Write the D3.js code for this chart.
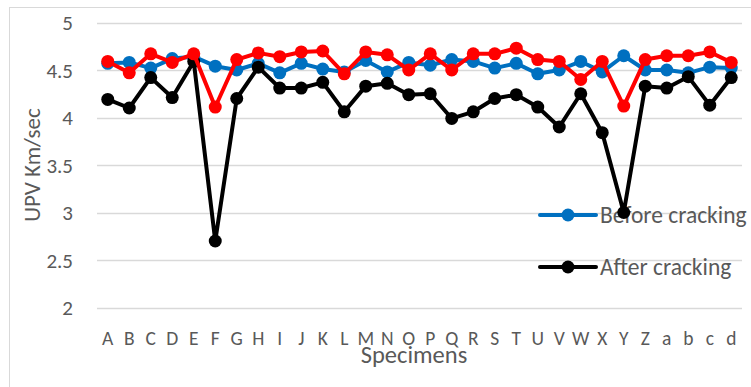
<!DOCTYPE html>
<html>
<head>
<meta charset="utf-8">
<script src="https://cdn.jsdelivr.net/npm/d3@7"></script>
<style>
  html, body { margin: 0; padding: 0; background: #fff; }
  svg { display: block; }
  text { font-family: Carlito, Lato, "Open Sans", sans-serif; fill: #595959; }
</style>
</head>
<body>
<svg id="chart" width="751" height="387"></svg>
<script>
// Specimen labels A..Z, a..d
const specimens = ["A","B","C","D","E","F","G","H","I","J","K","L","M","N","O","P","Q","R","S","T","U","V","W","X","Y","Z","a","b","c","d"];

// UPV readings (km/sec)
const beforeCracking = [4.57,4.58,4.52,4.62,4.64,4.54,4.50,4.57,4.47,4.57,4.51,4.48,4.60,4.48,4.58,4.55,4.61,4.59,4.52,4.57,4.46,4.50,4.59,4.48,4.65,4.50,4.50,4.47,4.53,4.52];
const afterCracking  = [4.19,4.10,4.42,4.21,4.59,2.70,4.20,4.53,4.31,4.31,4.37,4.06,4.33,4.36,4.24,4.25,3.99,4.06,4.20,4.24,4.11,3.90,4.25,3.84,3.00,4.33,4.31,4.43,4.13,4.42];
const afterRepair    = [4.59,4.47,4.67,4.58,4.67,4.11,4.61,4.68,4.64,4.69,4.70,4.46,4.69,4.66,4.50,4.67,4.50,4.67,4.67,4.73,4.61,4.59,4.40,4.59,4.12,4.61,4.65,4.65,4.69,4.58];

const yTicks = [2, 2.5, 3, 3.5, 4, 4.5, 5];

const svg = d3.select("#chart");

// outer chart frame
svg.append("rect")
  .attr("x", 9.5).attr("y", 7.5)
  .attr("width", 760).attr("height", 400)
  .attr("fill", "none").attr("stroke", "#d9d9d9").attr("stroke-width", 1);

const plot = { left: 97, right: 742, top: 22.5, bottom: 307.5 };

const x = d3.scaleBand().domain(specimens).range([plot.left, plot.right]);
const y = d3.scaleLinear().domain([2, 5]).range([plot.bottom, plot.top]);

// horizontal gridlines
svg.append("g")
  .selectAll("line")
  .data(yTicks)
  .join("line")
  .attr("x1", plot.left).attr("x2", plot.right)
  .attr("y1", d => Math.round(y(d)) + 0.5).attr("y2", d => Math.round(y(d)) + 0.5)
  .attr("stroke", "#d9d9d9").attr("stroke-width", 1.5);

// y axis labels
const yAxis = d3.axisLeft(y).tickValues(yTicks).tickSize(0).tickPadding(0).tickFormat(d3.format("~g"));
const gy = svg.append("g").attr("transform", `translate(${plot.left - 24},0)`).call(yAxis);
gy.select(".domain").remove();
gy.selectAll("text")
  .attr("font-size", 21)
  .attr("fill", "#595959")
  .style("font-family", "Carlito, Lato, 'Open Sans', sans-serif")
  .attr("dy", "0.35em");

// x axis labels
const xAxis = d3.axisBottom(x).tickSize(0).tickPadding(0);
const gx = svg.append("g").attr("transform", `translate(0,${plot.bottom + 24})`).call(xAxis);
gx.select(".domain").remove();
gx.selectAll("text")
  .attr("font-size", 19.5)
  .attr("fill", "#595959")
  .style("font-family", "Carlito, Lato, 'Open Sans', sans-serif")
  .attr("dy", "0.71em");

// axis titles
svg.append("text")
  .attr("x", 414).attr("y", 363)
  .attr("text-anchor", "middle")
  .attr("font-size", 24.5)
  .text("Specimens");

svg.append("text")
  .attr("transform", "translate(40,165) rotate(-90)")
  .attr("text-anchor", "middle")
  .attr("font-size", 23)
  .text("UPV Km/sec");

// legend (drawn beneath the series)
const legendItems = [
  { label: "Before cracking", color: "#0070C0", y: 215 },
  { label: "After cracking",  color: "#000000", y: 267 }
];
const lg = svg.append("g");
legendItems.forEach(item => {
  lg.append("line")
    .attr("x1", 540).attr("x2", 596)
    .attr("y1", item.y).attr("y2", item.y)
    .attr("stroke", item.color).attr("stroke-width", 4).attr("stroke-linecap", "round");
  lg.append("circle")
    .attr("cx", 568).attr("cy", item.y).attr("r", 6.5)
    .attr("fill", item.color);
  lg.append("text")
    .attr("x", 600).attr("y", item.y)
    .attr("dy", "0.35em")
    .attr("font-size", 23.5)
    .text(item.label);
});

// series: blue, then black, then red on top
const series = [
  { values: beforeCracking, color: "#0070C0" },
  { values: afterCracking,  color: "#000000" },
  { values: afterRepair,    color: "#FF0000" }
];

const cx = d => x(d) + x.bandwidth() / 2;
const line = d3.line()
  .x((v, i) => cx(specimens[i]))
  .y(v => y(v));

series.forEach(s => {
  const g = svg.append("g");
  g.append("path")
    .datum(s.values)
    .attr("d", line)
    .attr("fill", "none")
    .attr("stroke", s.color)
    .attr("stroke-width", 4)
    .attr("stroke-linejoin", "round");
  g.selectAll("circle")
    .data(s.values)
    .join("circle")
    .attr("cx", (v, i) => cx(specimens[i]))
    .attr("cy", v => y(v))
    .attr("r", 6.5)
    .attr("fill", s.color);
});
</script>
</body>
</html>
